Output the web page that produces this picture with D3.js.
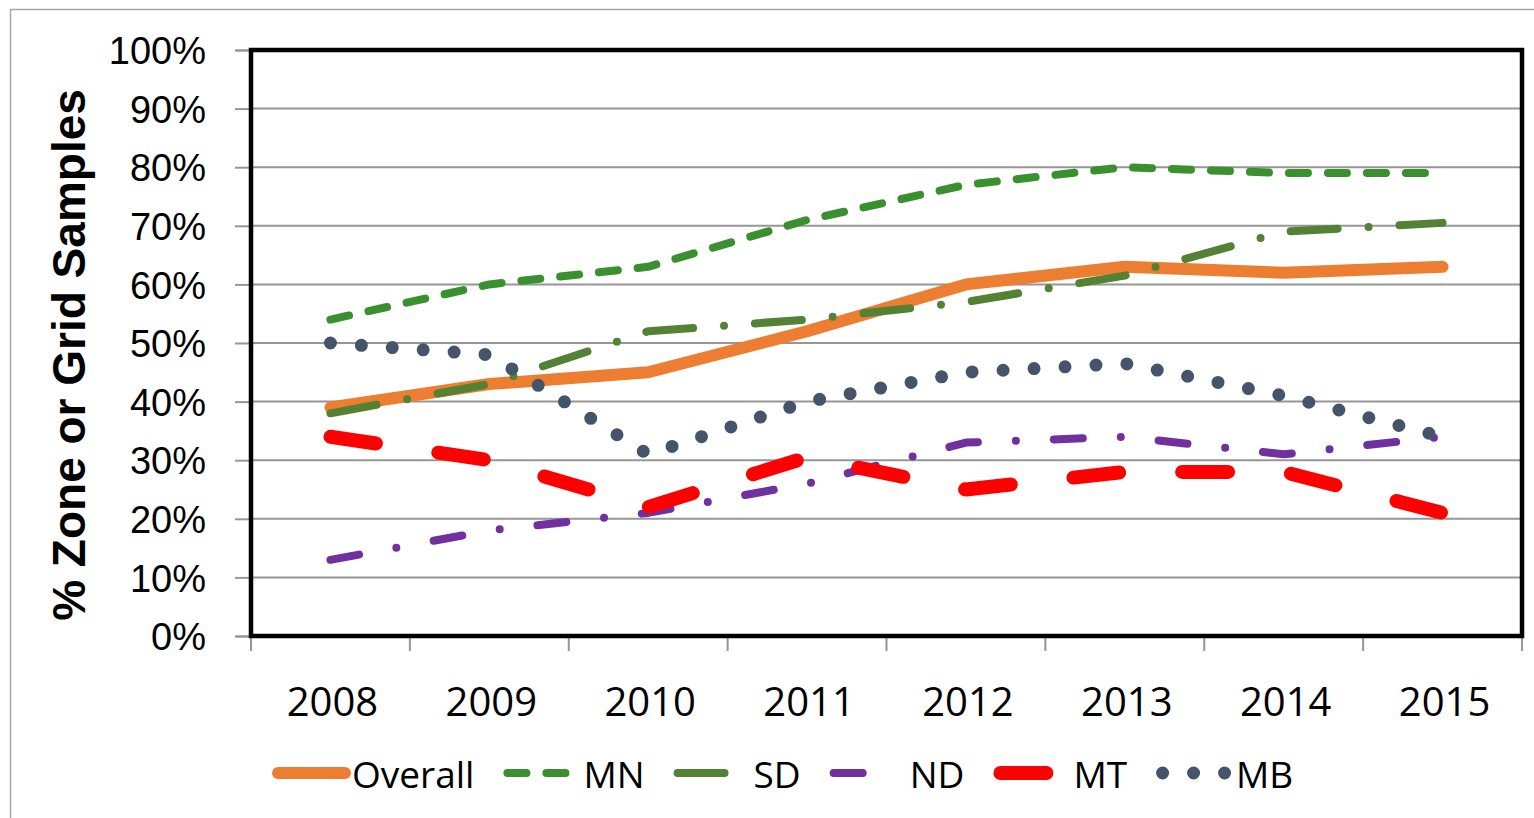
<!DOCTYPE html>
<html>
<head>
<meta charset="utf-8">
<script src="https://cdn.jsdelivr.net/npm/d3@7"></script>
<style>
	body { margin: 0; padding: 0; background: #fff; }
	#chart { width: 1534px; height: 818px; overflow: hidden; }
	.ytick text { font-family: 'Liberation Sans', Arial, sans-serif; font-size: 38px; fill: #000; }
	.xtick text { font-family: 'Open Sans', sans-serif; font-size: 40px; fill: #000; }
	.legend text { font-family: 'Open Sans', sans-serif; font-size: 37px; fill: #000; }
	.ytitle { font-family: 'Liberation Sans', Arial, sans-serif; font-size: 46px; font-weight: bold; fill: #000; }
</style>
</head>
<body>
<div id="chart"></div>
<script>
// data (percent)
var years = ['2008', '2009', '2010', '2011', '2012', '2013', '2014', '2015'];
var seriesNames = ['Overall', 'MN', 'SD', 'ND', 'MT', 'MB'];
var overall = [39, 43, 45, 52, 60, 63, 62, 63];
var mn = [54, 60, 63, 71, 77, 80, 79, 79];
var sd = [38, 43, 52, 54, 57, 61.5, 69, 70.5];
var nd = [13, 18, 21, 26, 33, 34, 31, 34];
var mt = [34, 30, 22, 30.5, 25, 28, 28, 21];
var mb = [50, 48, 31, 40, 45, 46.5, 41, 34];
var yTicks = [0, 10, 20, 30, 40, 50, 60, 70, 80, 90, 100];

var seriesValues = [overall, mn, sd, nd, mt, mb];

// looks, keyed by series
var styles = {
	Overall: { color: '#ed7d31', width: 12, dash: null, legendLen: 79 },
	MN: { color: '#3a8f2f', width: 8, dash: '19,20', legendLen: 69 },
	SD: { color: '#548235', width: 8, dash: '47,31,0,31', legendLen: 62 },
	ND: { color: '#7030a0', width: 8, dash: '29,38,0,38', legendLen: 37 },
	MT: { color: '#ff0000', width: 14, dash: '46,63', legendLen: 62 },
	MB: { color: '#44546a', width: 13, dash: '0,31', legendLen: 76 }
};

(function draw ()	{
	'use strict';

	var W = 1534, H = 818;
	var plot = { left: 251, right: 1522, top: 50, bottom: 636 };

	var svg = d3.select('#chart').append('svg')
						.attr('width', W)
						.attr('height', H);

	// outer chart frame
	svg.append('rect')
		 .attr('x', 10.5).attr('y', 9.5)
		 .attr('width', 1540).attr('height', 830)
		 .attr('fill', '#fff')
		 .attr('stroke', '#a6a6a6')
		 .attr('stroke-width', 1.5);

	var x = d3.scaleBand().domain(years)
						.range([plot.left, plot.right]).padding(0);
	var y = d3.scaleLinear().domain([0, 100])
						.range([plot.bottom, plot.top]);

	// gridlines
	svg.append('g')
		 .selectAll('line')
		 .data(yTicks)
		 .enter().append('line')
		 .attr('x1', plot.left).attr('x2', plot.right)
		 .attr('y1', function (d) { return y(d); })
		 .attr('y2', function (d) { return y(d); })
		 .attr('stroke', '#969696')
		 .attr('stroke-width', 2);

	// y axis
	var yAxis = d3.axisLeft(y).tickValues(yTicks)
								.tickSize(16).tickPadding(29)
								.tickFormat(function (d) { return d + '%'; });
	var gy = svg.append('g')
							.attr('class', 'ytick')
							.attr('transform', 'translate(' + plot.left + ',0)')
							.call(yAxis);
	gy.select('.domain').attr('stroke', '#969696').attr('stroke-width', 2);
	gy.selectAll('.tick line').attr('stroke', '#969696').attr('stroke-width', 2);
	gy.selectAll('.tick text').attr('dy', '0.36em');

	// x axis: ticks at band edges, labels in band centres
	var gx = svg.append('g')
							.attr('class', 'xtick')
							.attr('transform', 'translate(0,' + plot.bottom + ')');
	gx.append('line')
		.attr('x1', plot.left).attr('x2', plot.right)
		.attr('stroke', '#969696').attr('stroke-width', 2);
	var edges = years.map(function (d) { return x(d); }).concat([plot.right]);
	gx.selectAll('line.edge')
		.data(edges)
		.enter().append('line')
		.attr('class', 'edge')
		.attr('x1', function (d) { return d; })
		.attr('x2', function (d) { return d; })
		.attr('y1', 0).attr('y2', 15)
		.attr('stroke', '#969696').attr('stroke-width', 2);
	gx.selectAll('text')
		.data(years)
		.enter().append('text')
		.attr('x', function (d) { return x(d) + x.bandwidth() / 2 + 2; })
		.attr('y', 80)
		.attr('text-anchor', 'middle')
		.text(function (d) { return d; });

	// y title
	svg.append('text')
		 .attr('class', 'ytitle')
		 .attr('transform', 'translate(85,355) rotate(-90)')
		 .attr('text-anchor', 'middle')
		 .text('% Zone or Grid Samples');

	// series lines
	var line = d3.line()
							 .x(function (d, i) { return x(years[i]) + x.bandwidth() / 2; })
							 .y(function (d) { return y(d); });

	seriesNames.forEach(function (name, k)	{
		var st = styles[name];
		svg.append('path')
			 .datum(seriesValues[k])
			 .attr('d', line)
			 .attr('fill', 'none')
			 .attr('stroke', st.color)
			 .attr('stroke-width', st.width)
			 .attr('stroke-linecap', 'round')
			 .attr('stroke-linejoin', 'round')
			 .attr('stroke-dasharray', st.dash);
	});

	// plot frame on top
	svg.append('rect')
		 .attr('x', plot.left).attr('y', plot.top)
		 .attr('width', plot.right - plot.left)
		 .attr('height', plot.bottom - plot.top)
		 .attr('fill', 'none')
		 .attr('stroke', '#000')
		 .attr('stroke-width', 4.5);

	// legend
	var lg = svg.append('g').attr('class', 'legend');
	var items = seriesNames.map(function (name)	{
		var g = lg.append('g');
		var st = styles[name];
		g.append('line')
		 .attr('x1', st.width / 2)
		 .attr('x2', st.legendLen - st.width / 2)
		 .attr('y1', 773).attr('y2', 773)
		 .attr('stroke', st.color)
		 .attr('stroke-width', st.width)
		 .attr('stroke-linecap', 'round')
		 .attr('stroke-dasharray', st.dash);
		var t = g.append('text')
						 .attr('x', 80)
						 .attr('y', 788)
						 .text(name);
		return { g: g, w: 80 + t.node().getComputedTextLength() };
	});
	var gap = 29;
	var cx = 272;
	items.forEach(function (it)	{
		it.g.attr('transform', 'translate(' + cx + ',0)');
		cx += it.w + gap;
	});
})();
</script>
</body>
</html>
